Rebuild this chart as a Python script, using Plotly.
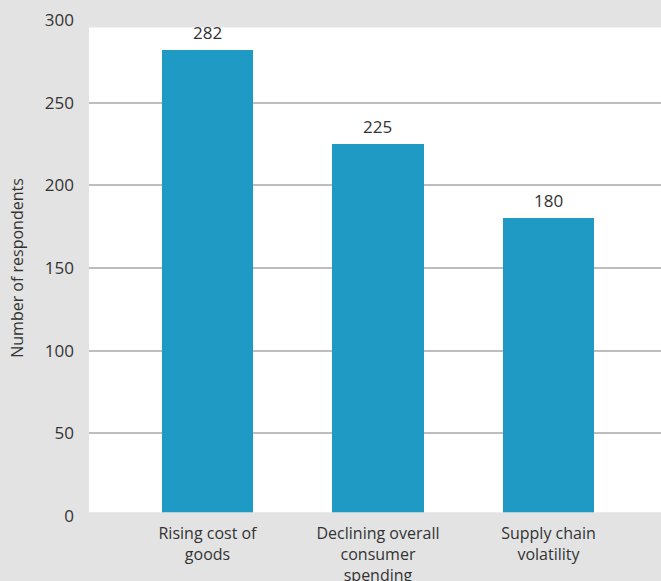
import plotly.graph_objects as go

# Survey results: top concerns among respondents
categories = ["Rising cost of<br>goods", "Declining overall<br>consumer<br>spending", "Supply chain<br>volatility"]
respondents = [282, 225, 180]
y_ticks = [0, 50, 100, 150, 200, 250, 300]

BAR_BLUE = "#1e9ac4"
PANEL_GREY = "#e3e3e3"
TEXT = "#333333"

x_pos = list(range(len(categories)))

fig = go.Figure(
    go.Bar(
        x=x_pos,
        y=respondents,
        width=0.534,
        marker=dict(color=BAR_BLUE, line=dict(width=0)),
        hoverinfo="skip",
    )
)

# value labels above each bar
for xi, v in zip(x_pos, respondents):
    fig.add_annotation(
        x=xi, y=v, text=str(v), showarrow=False,
        yanchor="bottom", yshift=4,
        font=dict(family="Open Sans", size=17, color=TEXT),
    )

# grey bands trimming the plotting panel top and bottom
fig.add_shape(type="rect", xref="paper", x0=0, x1=1, yref="y", y0=295.5, y1=300,
              fillcolor=PANEL_GREY, line=dict(width=0), layer="below")
fig.add_shape(type="rect", xref="paper", x0=0, x1=1, yref="y", y0=0, y1=2.3,
              fillcolor=PANEL_GREY, line=dict(width=0), layer="above")

fig.update_layout(
    width=661,
    height=581,
    margin=dict(l=89, r=0, t=20, b=65),
    paper_bgcolor=PANEL_GREY,
    plot_bgcolor="white",
    showlegend=False,
    bargap=0,
    xaxis=dict(
        range=[-0.695, 2.66],
        tickmode="array",
        tickvals=x_pos,
        ticktext=categories,
        showgrid=False,
        zeroline=False,
        showline=False,
        ticks="",
        automargin=False,
        ticklabelstandoff=6,
        tickfont=dict(family="Open Sans", size=16, color=TEXT),
    ),
    yaxis=dict(
        range=[0, 300],
        tickmode="array",
        tickvals=y_ticks,
        ticktext=[str(t) for t in y_ticks],
        showgrid=True,
        gridcolor="#bdbdbd",
        gridwidth=1.5,
        zeroline=False,
        showline=False,
        ticks="",
        automargin=False,
        ticklabelstandoff=14,
        tickfont=dict(family="Open Sans", size=17, color=TEXT),
        title=dict(
            text="Number of respondents",
            standoff=17,
            font=dict(family="Open Sans", size=16, color=TEXT),
        ),
    ),
)

fig.write_html("out.html")
